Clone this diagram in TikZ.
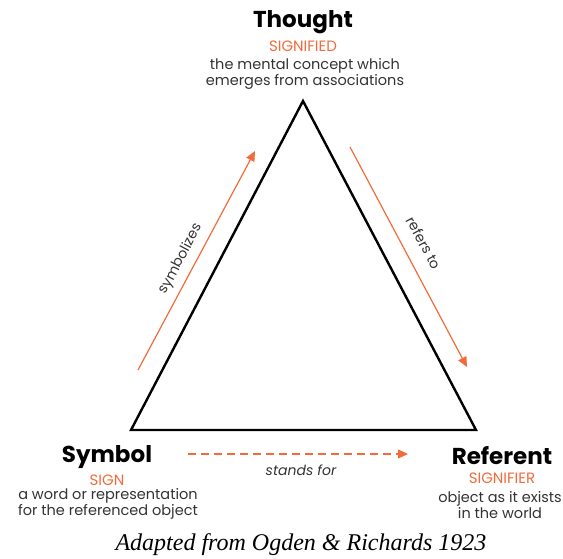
\documentclass[tikz,border=0pt]{standalone}
\usepackage{fontspec}
\setmainfont{Liberation Serif}
\newfontfamily\gsans{Poppins}
\usetikzlibrary{arrows.meta}
\definecolor{sigorange}{HTML}{F26B3A}
\definecolor{txtgray}{HTML}{333333}
\tikzset{
  title/.style={font=\gsans\bfseries\fontsize{23}{26}\selectfont, text=black, inner sep=0pt},
  kind/.style={font=\gsans\fontsize{15}{16}\selectfont, text=sigorange, inner sep=0pt},
  desc/.style={font=\gsans\fontsize{14.5}{15.5}\selectfont, text=txtgray, align=center, inner sep=0pt},
  rel/.style={font=\gsans\fontsize{14}{16}\selectfont, text=txtgray, inner sep=0pt},
  tri/.style={line width=2.4pt, line join=miter},
  orarrow/.style={draw=sigorange, line width=1.2pt, -{Triangle[length=10pt,width=9pt]}},
}
\begin{document}
\begin{tikzpicture}[x=1pt,y=-1pt]
\useasboundingbox (0,0) rectangle (563,559);
% triangle corners
\coordinate (T) at (303,101);
\coordinate (S) at (131,430);
\coordinate (R) at (476,430);
\draw[tri] (T) -- (S) -- (R) -- cycle;
% arrows
\coordinate (a1) at (138,370);
\coordinate (a2) at (255,151);
\coordinate (b1) at (350,147);
\coordinate (b2) at (467,367);
\coordinate (c1) at (188,454);
\coordinate (c2) at (408,454);
\draw[orarrow] (a1) -- (a2);
\draw[orarrow] (b1) -- (b2);
\draw[orarrow, dash pattern=on 8pt off 5pt] (c1) -- (c2);
\node[rel, rotate=62] (symb) at (181,259) {symbolizes};
\node[rel, rotate=-62] (refto) at (424,243) {refers to};
\node[rel, font=\gsans\itshape\fontsize{14}{16}\selectfont] (stands) at (301,470) {stands for};
% Thought
\node[title] (thought) at (303,22) {Thought};
\node[kind] (signified) at (303,46) {SIGNIFIED};
\node[desc] (tdesc) at (305,74) {the mental concept which\\emerges from associations};
% Symbol
\node[title] (symbol) at (107,457) {Symbol};
\node[kind] (sign) at (107,480) {SIGN};
\node[desc] (sdesc) at (108,504) {a word or representation\\for the referenced object};
% Referent
\node[title] (referent) at (502,456) {Referent};
\node[kind] (signifier) at (502,478) {SIGNIFIER};
\node[desc] (rdesc) at (500,505) {object as it exists\\in the world};
% caption
\node[font=\itshape\fontsize{24}{26}\selectfont, inner sep=0pt] (caption) at (301,545) {Adapted from Ogden \& Richards 1923};
\end{tikzpicture}
\end{document}
